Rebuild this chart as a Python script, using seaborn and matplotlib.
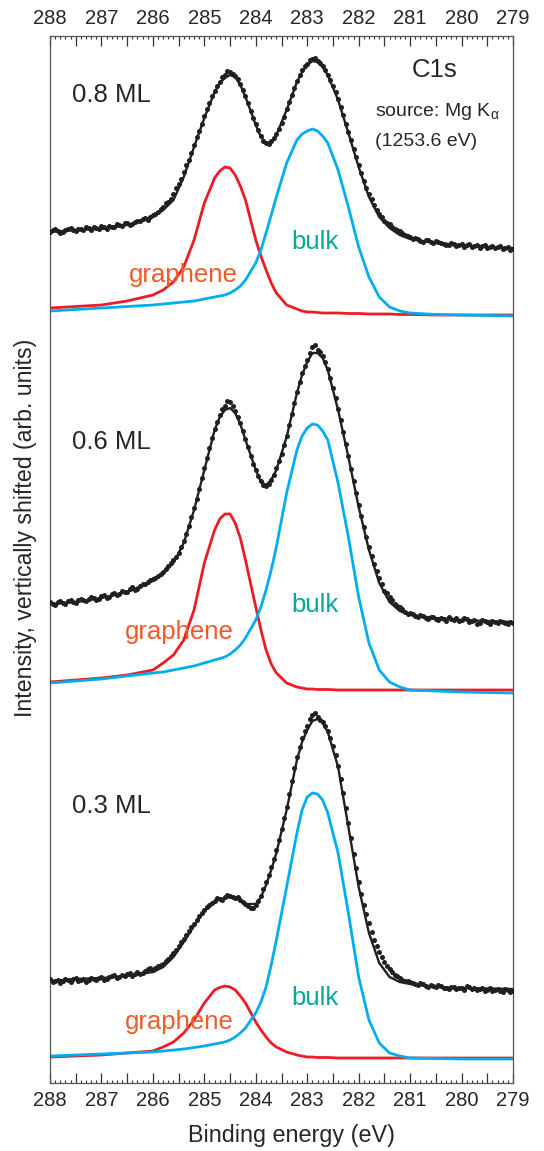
import numpy as np
import pandas as pd
import matplotlib
matplotlib.use('Agg')
import matplotlib.pyplot as plt
from matplotlib.ticker import MultipleLocator, FuncFormatter
import seaborn as sns

# energy grid of the fitted curves (eV)
energy_fit = [288.0, 287.5, 287.0, 286.5, 286.0, 285.8, 285.6, 285.4, 285.2, 285.0,
              284.8, 284.7, 284.6, 284.5, 284.4, 284.3, 284.2, 284.0, 283.9, 283.8,
              283.7, 283.6, 283.4, 283.2, 283.1, 283.0, 282.9, 282.8, 282.7, 282.6,
              282.4, 282.2, 282.0, 281.8, 281.6, 281.4, 281.2, 281.0, 280.5, 280.0,
              279.5, 279.0]
# energy grids of the measured points (every 0.05 eV, split in two sets)
energy_dots = np.round(np.linspace(288.0, 279.0, 91), 2)
energy_mids = np.round(np.linspace(287.95, 279.05, 90), 2)

coverages = ['0.8 ML', '0.6 ML', '0.3 ML']
shifts = [768, 393, 25]

# 0.8 ML
fit_08 = [83, 85, 86, 90, 98, 105, 115, 138, 168, 197, 223, 232, 237, 240, 238, 230, 218, 190,
          178, 172, 173, 180, 205, 233, 243, 250, 254, 253, 248, 240, 215, 182, 148, 118, 98,
          87, 80, 76, 72, 70, 68, 67]
graphene_08 = [7, 8.5, 10, 14, 20, 25, 33, 48, 75, 112, 137, 144, 148, 147, 140, 129, 115, 75,
               59, 45, 32, 22, 10, 6, 4, 3, 3, 2.5, 2, 2, 2, 1.5, 1.5, 1, 1, 1, 0.5, 0.5, 0, 0,
               0, 0]
bulk_08 = [4, 5.5, 7, 8.5, 10, 11, 12, 13, 14, 16, 18, 19, 20, 22, 25, 29, 35, 52, 65, 82, 100,
           118, 152, 175, 181, 184, 186, 184, 179, 172, 145, 108, 68, 38, 18, 8, 4, 2, 0.5, 0,
           -0.5, -1]
data_08 = [83, 86, 82, 85, 87, 84, 86, 88, 85, 87, 89, 86, 88, 91, 89, 92, 91, 94, 96, 95,
           100, 103, 108, 113, 121, 131, 143, 155, 170, 184, 199, 212, 224, 233, 240, 243, 239,
           231, 219, 204, 191, 179, 172, 174, 181, 192, 206, 220, 234, 245, 251, 256, 254, 249,
           240, 229, 216, 200, 183, 166, 150, 134, 121, 110, 101, 94, 91, 86, 84, 80, 78, 77,
           74, 75, 73, 74, 72, 70, 72, 69, 71, 70, 68, 70, 69, 67, 69, 68, 66, 68, 66]
data_08_mid = [85, 84, 83, 86, 85, 86, 85, 87, 88, 86,
               88, 89, 88, 90, 92, 90, 93, 94, 97, 98,
               101, 106, 112, 116, 127, 136, 150, 162, 178, 191,
               206, 219, 229, 238, 244, 241, 236, 225, 212, 197,
               185, 174, 171, 177, 186, 198, 213, 227, 240, 249,
               255, 257, 252, 245, 235, 223, 208, 191, 175, 158,
               142, 127, 116, 105, 98, 92, 88, 85, 82, 79,
               76, 76, 73, 75, 72, 73, 71, 70, 71, 70,
               68, 71, 69, 67, 70, 68, 67, 69, 67, 65]

# 0.6 ML
fit_06 = [86, 88, 92, 98, 109, 117, 127, 147, 180, 220, 260, 273, 280, 282, 277, 266, 250, 220,
          208, 205, 210, 220, 253, 297, 315, 328, 337, 337, 332, 320, 280, 233, 183, 140, 107,
          88, 79, 75, 72, 70, 69, 68]
graphene_06 = [8, 10, 12, 15, 20, 27, 35, 50, 80, 127, 160, 171, 176, 176, 167, 152, 130, 83,
               60, 40, 26, 17, 7, 3, 2, 1, 1, 0.5, 0.5, 0.5, 0, 0, 0, 0, 0, 0, 0, 0, 0, 0, 0, 0]
bulk_06 = [7, 9, 11, 14, 17, 18, 20, 22, 24, 27, 30, 31.5, 33, 36, 40, 45, 52, 70, 83, 100,
           120, 143, 197, 240, 254, 262, 266, 265, 259, 250, 207, 153, 93, 47, 20, 8, 3, 0, -1,
           -2, -2.5, -3]
data_06 = [88, 85, 89, 86, 90, 87, 91, 89, 93, 90, 94, 92, 96, 95, 99, 98, 103, 101, 106, 108,
           111, 114, 118, 124, 130, 137, 149, 164, 182, 201, 222, 242, 261, 275, 284, 288, 279,
           267, 251, 234, 220, 209, 204, 210, 222, 236, 254, 276, 298, 317, 330, 343, 340, 334,
           321, 302, 281, 258, 234, 209, 185, 163, 143, 126, 112, 99, 93, 86, 83, 78, 77, 74,
           75, 72, 73, 71, 72, 69, 71, 72, 70, 71, 69, 66, 70, 68, 69, 67, 68, 66, 67]
data_06_mid = [86, 88, 87, 89, 88, 90, 90, 91, 92, 91,
               95, 93, 97, 96, 98, 101, 100, 104, 106, 110,
               112, 116, 121, 127, 133, 143, 156, 173, 191, 212,
               232, 252, 268, 281, 289, 284, 273, 259, 243, 226,
               214, 205, 206, 215, 229, 245, 265, 287, 308, 324,
               337, 345, 338, 328, 312, 292, 270, 246, 221, 197,
               174, 153, 134, 119, 106, 97, 90, 84, 81, 76,
               76, 73, 74, 71, 73, 70, 71, 73, 70, 69,
               72, 68, 70, 67, 69, 66, 68, 69, 67, 68]

# 0.3 ML
fit_03 = [77, 79, 80, 82, 86, 91, 101, 116, 132, 147, 156, 159, 160, 161, 160, 157, 154, 154,
          161, 173, 188, 205, 248, 298, 316, 328, 337, 339, 335, 326, 291, 231, 171, 125, 95,
          81, 76, 74, 71, 70, 69.5, 69]
graphene_03 = [1, 2, 3, 5, 7, 11, 16, 25, 38, 55, 68, 70.5, 72, 71, 68, 62, 55, 36, 28, 21, 15,
               11, 6, 3, 2, 1, 1, 0.5, 0.5, 0.5, 0, 0, 0, 0, 0, 0, 0, 0, 0, 0, 0, 0]
bulk_03 = [2, 3, 4, 5, 6, 7, 8, 9, 10.5, 12, 14, 15, 16, 18, 21, 25, 30, 45, 56, 71, 93, 118,
           171, 225, 248, 261, 265, 264, 258, 245, 205, 145, 81, 38, 15, 5, 2, 0, -0.5, -1, -1,
           -1]
data_03 = [79, 77, 75, 79, 76, 80, 78, 76, 80, 78, 81, 79, 82, 80, 83, 84, 82, 86, 85, 89, 88,
           92, 94, 99, 105, 112, 119, 127, 134, 142, 148, 153, 157, 159, 161, 162, 160, 158, 154,
           150, 153, 162, 176, 191, 208, 229, 251, 277, 301, 320, 332, 343, 341, 336, 327, 312,
           292, 265, 235, 204, 176, 153, 135, 118, 106, 96, 89, 83, 80, 77, 76, 74, 75, 72, 73,
           71, 72, 70, 71, 69, 70, 72, 69, 68, 70, 68, 67, 69, 66, 68, 67]
data_03_mid = [76, 78, 77, 78, 79, 77, 79, 78, 79, 80,
               78, 81, 83, 81, 82, 85, 84, 84, 87, 90,
               90, 93, 97, 102, 108, 116, 123, 131, 138, 145,
               151, 155, 160, 158, 163, 161, 161, 156, 152, 150,
               157, 169, 183, 199, 218, 240, 264, 290, 311, 327,
               339, 345, 338, 332, 320, 303, 279, 250, 220, 190,
               164, 144, 126, 112, 101, 92, 86, 82, 78, 77,
               75, 73, 74, 71, 72, 73, 70, 69, 71, 70,
               68, 71, 70, 69, 67, 70, 68, 67, 69, 66]

fits = [fit_08, fit_06, fit_03]
graphenes = [graphene_08, graphene_06, graphene_03]
bulks = [bulk_08, bulk_06, bulk_03]
datas = [data_08, data_06, data_03]
datas_mid = [data_08_mid, data_06_mid, data_03_mid]

sns.set_style('ticks')
plt.rcParams['font.family'] = ['Liberation Sans', 'DejaVu Sans']
plt.rcParams['mathtext.fontset'] = 'custom'
plt.rcParams['mathtext.rm'] = 'Liberation Sans'
plt.rcParams['mathtext.it'] = 'Liberation Sans'

fig = plt.figure(figsize=(5.44, 11.51), dpi=100)
ax = fig.add_axes([50 / 544, 1 - 1083 / 1151, 463 / 544, 1047 / 1151])

red = '#ed1c24'
blue = '#00aeef'
black = '#231f20'

for i in range(3):
    curves = pd.DataFrame({'E': energy_fit,
                           'fit': np.array(fits[i]) + shifts[i],
                           'graphene': np.array(graphenes[i]) + shifts[i],
                           'bulk': np.array(bulks[i]) + shifts[i]})
    points = pd.DataFrame({'E': np.concatenate([energy_dots, energy_mids]),
                           'I': np.concatenate([datas[i], datas_mid[i]]) + shifts[i]})
    sns.lineplot(data=curves, x='E', y='graphene', color=red, lw=2.0, ax=ax, sort=False)
    sns.lineplot(data=curves, x='E', y='bulk', color=blue, lw=2.0, ax=ax, sort=False)
    sns.lineplot(data=curves, x='E', y='fit', color=black, lw=1.7, ax=ax, sort=False)
    sns.scatterplot(data=points, x='E', y='I', color=black, s=13, linewidth=0, ax=ax,
                    zorder=5)

# labels inside the plot
label_y = [988, 641, 277]
bulk_y = [841, 478, 85]
graph_y = [808, 451, 61]
graph_x = [286.46, 286.54, 286.54]
for i in range(3):
    ax.text(287.57, label_y[i], coverages[i], fontsize=18.5, va='center', ha='left')
    ax.text(283.31, bulk_y[i], 'bulk', fontsize=18.5, color='#00a99d', va='center', ha='left')
    ax.text(graph_x[i], graph_y[i], 'graphene', fontsize=18.5, color='#f15a29', va='center',
            ha='left')

ax.text(280.96, 1013, 'C1s', fontsize=18.5, va='center', ha='left')
ax.text(281.68, 971, r'source: Mg K$_{\mathrm{\alpha}}$', fontsize=14, va='center', ha='left')
ax.text(281.68, 941, '(1253.6 eV)', fontsize=14, va='center', ha='left')

ax.set_xlim(288, 279)
ax.set_ylim(0, 1047)
ax.set_yticks([])
ax.set_xlabel('Binding energy (eV)', fontsize=16.8)
ax.set_ylabel('Intensity, vertically shifted (arb. units)', fontsize=16.7)
ax.xaxis.set_label_coords(0.5216, -0.039)
ax.yaxis.set_label_coords(-0.028, 0.530)

ax.xaxis.set_major_locator(MultipleLocator(0.5))
ax.xaxis.set_minor_locator(MultipleLocator(0.1))
ax.xaxis.set_major_formatter(FuncFormatter(
    lambda v, p: '%d' % round(v) if abs(v - round(v)) < 1e-6 else ''))
ax.tick_params(axis='x', which='both', direction='in', top=True, bottom=True,
               labeltop=True, labelbottom=True, color='#333333', labelsize=14.5, pad=6)
ax.tick_params(axis='x', which='major', length=7.2, width=0.9)
ax.tick_params(axis='x', which='minor', length=2.2, width=0.8)
for spine in ax.spines.values():
    spine.set_visible(True)
    spine.set_color('#555555')
    spine.set_linewidth(0.9)

for t in ax.xaxis.get_major_ticks():
    v = t.get_loc()
    if abs(v - round(v)) > 1e-6:
        t.tick1line.set_markersize(4.3)
        t.tick2line.set_markersize(4.3)

fig.savefig('out.png', dpi=100)
